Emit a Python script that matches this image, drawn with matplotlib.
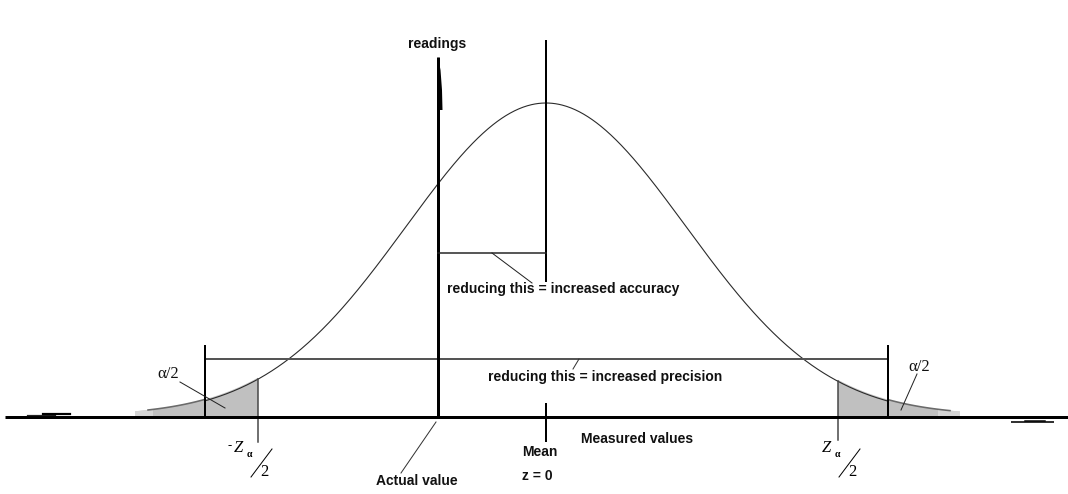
import numpy as np
import matplotlib
matplotlib.use("Agg")
import matplotlib.pyplot as plt
from matplotlib.patches import Polygon

# ---- diagram data (pixel coordinate system of the picture) ----
baseline_y = 417
mean_x = 546
sigma_px = 140
peak_y = 103
actual_x = 438
z_left_x, z_right_x = 258, 838
prec_left_x, prec_right_x = 205, 888
prec_y = 359
acc_y = 253
tail_left_end, tail_right_end = 135, 960

labels_bold = {
    "readings": (437, 44),
    "reducing this = increased accuracy": (447, 289),
    "reducing this = increased precision": (488, 377),
    "Measured values": (581, 439),
    "Actual value": (376, 481),
    "Mean": (522, 452),
    "z = 0": (522, 476),
}

def curve_y(x):
    h = baseline_y - peak_y
    return baseline_y - h * np.exp(-0.5 * ((x - mean_x) / sigma_px) ** 2)

W, H = 1068, 494
fig = plt.figure(figsize=(W / 100, H / 100), dpi=100)
ax = fig.add_axes([0, 0, 1, 1])
ax.set_xlim(0, W)
ax.set_ylim(H, 0)
ax.axis("off")

px = 0.72  # points per pixel

# gray tail fills
for a, b in [(tail_left_end, z_left_x), (z_right_x, tail_right_end)]:
    xs = np.linspace(a, b, 100)
    ys = curve_y(xs) - 1.5
    poly = np.column_stack([np.r_[xs, b, a], np.r_[ys, baseline_y, baseline_y]])
    ax.add_patch(Polygon(poly, closed=True, facecolor="#c0c0c0", edgecolor="none", zorder=1))
# fuzzy lighter ends
for a, b in [(tail_left_end, tail_left_end + 18), (tail_right_end - 22, tail_right_end)]:
    xs = np.linspace(a, b, 30)
    ys = curve_y(xs) - 1.5
    poly = np.column_stack([np.r_[xs, b, a], np.r_[ys, baseline_y, baseline_y]])
    ax.add_patch(Polygon(poly, closed=True, facecolor="#d6d6d6", edgecolor="none", zorder=1.1))

# tail outline (gray)
xs = np.linspace(148, prec_left_x, 60)
ax.plot(xs, curve_y(xs) - 1.5, color="#6a6a6a", lw=1.6 * px, zorder=2)
xs = np.linspace(prec_right_x, 950, 60)
ax.plot(xs, curve_y(xs) - 1.5, color="#6a6a6a", lw=1.6 * px, zorder=2)

# main curve
xs = np.linspace(prec_left_x, prec_right_x, 800)
ax.plot(xs, curve_y(xs), color="#2a2a2a", lw=1.1 * px, zorder=3)

# baseline
ax.plot([5, W], [baseline_y, baseline_y], color="black", lw=3 * px, solid_capstyle="butt", zorder=5)
# left end mark
ax.plot([27, 55], [415, 415], color="#222222", lw=1.2 * px, zorder=5)
ax.plot([43, 70], [413.5, 413.5], color="black", lw=2.2 * px, zorder=5)
# right end mark
ax.plot([1012, 1053], [421.5, 421.5], color="#333333", lw=2 * px, zorder=5)
ax.plot([1025, 1045], [420.5, 420.5], color="black", lw=1.5 * px, zorder=5)

# readings axis
ax.plot([actual_x, actual_x], [57, baseline_y + 1], color="black", lw=3 * px, solid_capstyle="butt", zorder=6)
ax.add_patch(Polygon([(438, 57), (440.5, 70), (442, 90), (442.5, 110), (438, 110)],
                     closed=True, facecolor="black", edgecolor="none", zorder=6))

# mean line
ax.plot([mean_x, mean_x], [40, 282], color="black", lw=2 * px, solid_capstyle="butt", zorder=6)
ax.plot([mean_x, mean_x], [403, 442], color="black", lw=2 * px, solid_capstyle="butt", zorder=6)

# accuracy bracket
ax.plot([actual_x, mean_x], [acc_y, acc_y], color="#222222", lw=1.5 * px, zorder=6)
ax.plot([492, 532], [acc_y, 283], color="#222222", lw=1 * px, zorder=6)

# precision bracket
ax.plot([prec_left_x, prec_right_x], [prec_y, prec_y], color="#555555", lw=2 * px, zorder=4)
ax.plot([prec_left_x, prec_left_x], [345, baseline_y], color="black", lw=2 * px, solid_capstyle="butt", zorder=6)
ax.plot([prec_right_x, prec_right_x], [345, baseline_y], color="black", lw=2 * px, solid_capstyle="butt", zorder=6)
ax.plot([579, 573], [prec_y, 369], color="#333333", lw=1 * px, zorder=6)

# Z lines
ax.plot([z_left_x, z_left_x], [curve_y(z_left_x), 442], color="#444444", lw=1.5 * px, zorder=4)
ax.plot([z_right_x, z_right_x], [curve_y(z_right_x), 440], color="#444444", lw=1.5 * px, zorder=4)

# actual value leader
ax.plot([436, 401], [422, 473], color="#333333", lw=1 * px, zorder=6)

# alpha/2 labels and leaders
serif = ["Liberation Serif", "DejaVu Serif"]
ax.text(157, 374, "α/2", fontsize=12, family=serif, ha="left", va="center", color="#111111", zorder=7)
ax.plot([180, 225], [382, 408], color="#222222", lw=1 * px, zorder=6)
ax.text(908, 367, "α/2", fontsize=12, family=serif, ha="left", va="center", color="#111111", zorder=7)
ax.plot([917, 901], [374, 410], color="#222222", lw=1 * px, zorder=6)

# Z_alpha/2 labels
def z_label(x0, neg):
    if neg:
        ax.text(x0 - 2, 446, "-", fontsize=9, family=serif, ha="right", va="center", zorder=7)
    ax.text(x0, 448, "Z", fontsize=12, family=serif, style="italic", ha="left", va="center", zorder=7)
    ax.text(x0 + 13, 454, "α", fontsize=7, family=serif, weight="bold", ha="left", va="center", zorder=7)
    ax.plot([x0 + 38, x0 + 17], [449, 477], color="black", lw=1 * px, zorder=7)
    ax.text(x0 + 26, 472, "2", fontsize=12, family=serif, ha="left", va="center", zorder=7)

z_label(234, True)
z_label(822, False)

# bold labels
sans = ["Liberation Sans", "DejaVu Sans"]
for txt, (x, y) in labels_bold.items():
    ha = "center" if txt == "readings" else "left"
    ax.text(x, y, txt, fontsize=10, family=sans, weight="bold", ha=ha, va="center", color="#111111", zorder=7)

fig.savefig("out.png", dpi=100, facecolor="white")
